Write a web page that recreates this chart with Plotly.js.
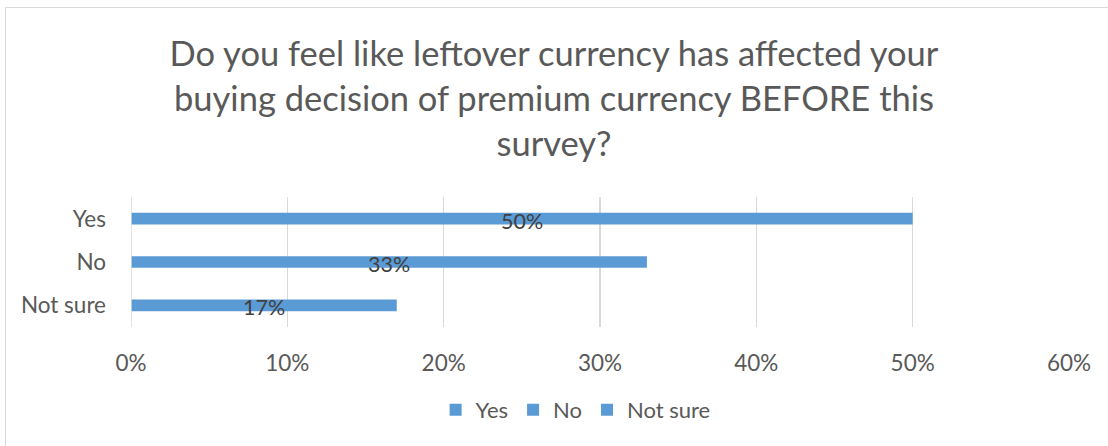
<!DOCTYPE html>
<html><head><meta charset="utf-8">
<script src="https://cdn.plot.ly/plotly-3.0.1.min.js"></script>
<style>
html,body{margin:0;padding:0;background:#fff;}
#wrap{position:relative;width:1108px;height:446px;overflow:hidden;}
#frame{position:absolute;left:5px;top:7px;width:1200px;height:500px;border:1px solid #d9d9d9;box-sizing:border-box;pointer-events:none;}
#chart{position:absolute;left:0;top:0;width:1108px;height:446px;}
</style></head>
<body><div id="wrap"><div id="chart"></div><div id="frame"></div></div>
<script>
const categories = ["Yes", "No", "Not sure"];
const values = [0.50, 0.33, 0.17];
const labels = ["50%", "33%", "17%"];
const xTicks = [0, 0.1, 0.2, 0.3, 0.4, 0.5, 0.6];
const xTickLabels = ["0%", "10%", "20%", "30%", "40%", "50%", "60%"];
const color = "#5B9BD5";
const font = "Lato, 'Noto Sans', sans-serif";

const traces = categories.map((c, i) => ({
  type: "bar", orientation: "h",
  x: [values[i]], y: [c], name: c,
  marker: {color: color},
  width: 0.27,
  hoverinfo: "x+y"
}));

const annotations = categories.map((c, i) => ({
  x: values[i] / 2, y: c, xref: "x", yref: "y",
  text: labels[i], showarrow: false, yshift: -2,
  font: {family: font, size: 21.5, color: "#404040"}
}));

const layout = {
  width: 1108, height: 446,
  margin: {l: 131, r: 39, t: 197, b: 119},
  paper_bgcolor: "#fff", plot_bgcolor: "#fff",
  font: {family: font, color: "#595959", size: 22},
  title: {
    text: "Do you feel like leftover currency has affected your<br>buying decision of premium currency BEFORE this<br>survey?",
    font: {family: font, size: 34.5, color: "#595959"},
    x: 0.5, xanchor: "center", xref: "container",
    y: 1 - 66 / 446, yanchor: "middle", yref: "container"
  },
  barmode: "overlay",
  xaxis: {
    range: [0, 0.6], tickvals: xTicks, ticktext: xTickLabels,
    showgrid: true, gridcolor: "#d9d9d9", gridwidth: 1.5,
    zeroline: false, showline: false, ticks: "",
    tickfont: {family: font, size: 22.5, color: "#595959"},
    ticklabelstandoff: 20, fixedrange: true
  },
  yaxis: {
    categoryorder: "array", categoryarray: categories.slice().reverse(),
    autorange: true, showgrid: false, zeroline: false,
    showline: false, ticks: "", ticklabelstandoff: 24,
    tickfont: {family: font, size: 22.5, color: "#595959"}
  },
  shapes: [{type: "line", xref: "x", yref: "paper", x0: 0, x1: 0, y0: 0, y1: 1, line: {color: "#d9d9d9", width: 1.5}}],
  showlegend: true,
  legend: {
    orientation: "h", x: 0.474, xanchor: "center", y: -0.638, yanchor: "middle",
    font: {family: font, size: 22, color: "#595959"},
    itemwidth: 30, traceorder: "normal"
  },
  annotations: annotations
};
Plotly.newPlot("chart", traces, layout, {displayModeBar: false, staticPlot: true});
</script></body></html>
